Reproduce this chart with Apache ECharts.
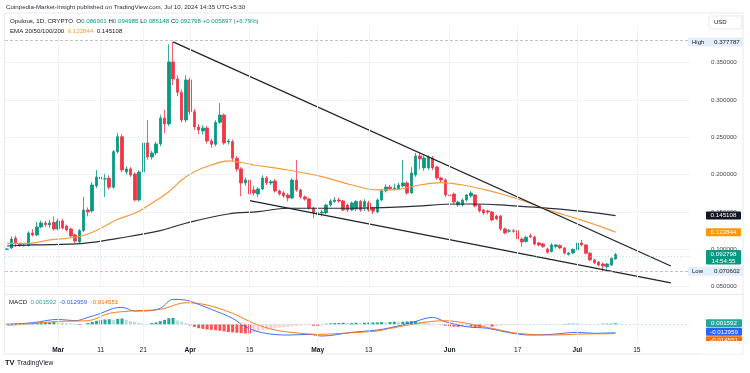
<!DOCTYPE html>
<html><head><meta charset="utf-8">
<script src="https://cdn.jsdelivr.net/npm/echarts/dist/echarts.min.js"></script>
<style>html,body{margin:0;padding:0;background:#fff}#c{width:750px;height:373px}</style>
</head><body><div id="c"></div><script>
// ---------- DATA ----------
const dates = [
'2024-02-18','2024-02-19','2024-02-20','2024-02-21','2024-02-22','2024-02-23','2024-02-24','2024-02-25','2024-02-26','2024-02-27','2024-02-28','2024-02-29',
'2024-03-01','2024-03-02','2024-03-03','2024-03-04','2024-03-05','2024-03-06','2024-03-07','2024-03-08','2024-03-09','2024-03-10','2024-03-11','2024-03-12','2024-03-13','2024-03-14','2024-03-15','2024-03-16','2024-03-17','2024-03-18','2024-03-19','2024-03-20','2024-03-21','2024-03-22','2024-03-23','2024-03-24','2024-03-25','2024-03-26','2024-03-27','2024-03-28','2024-03-29','2024-03-30','2024-03-31',
'2024-04-01','2024-04-02','2024-04-03','2024-04-04','2024-04-05','2024-04-06','2024-04-07','2024-04-08','2024-04-09','2024-04-10','2024-04-11','2024-04-12','2024-04-13','2024-04-14','2024-04-15','2024-04-16','2024-04-17','2024-04-18','2024-04-19','2024-04-20','2024-04-21','2024-04-22','2024-04-23','2024-04-24','2024-04-25','2024-04-26','2024-04-27','2024-04-28','2024-04-29','2024-04-30',
'2024-05-01','2024-05-02','2024-05-03','2024-05-04','2024-05-05','2024-05-06','2024-05-07','2024-05-08','2024-05-09','2024-05-10','2024-05-11','2024-05-12','2024-05-13','2024-05-14','2024-05-15','2024-05-16','2024-05-17','2024-05-18','2024-05-19','2024-05-20','2024-05-21','2024-05-22','2024-05-23','2024-05-24','2024-05-25','2024-05-26','2024-05-27','2024-05-28','2024-05-29','2024-05-30','2024-05-31',
'2024-06-01','2024-06-02','2024-06-03','2024-06-04','2024-06-05','2024-06-06','2024-06-07','2024-06-08','2024-06-09','2024-06-10','2024-06-11','2024-06-12','2024-06-13','2024-06-14','2024-06-15','2024-06-16','2024-06-17','2024-06-18','2024-06-19','2024-06-20','2024-06-21','2024-06-22','2024-06-23','2024-06-24','2024-06-25','2024-06-26','2024-06-27','2024-06-28','2024-06-29','2024-06-30',
'2024-07-01','2024-07-02','2024-07-03','2024-07-04','2024-07-05','2024-07-06','2024-07-07','2024-07-08','2024-07-09','2024-07-10'];
const futureDates = ['2024-07-11','2024-07-12','2024-07-13','2024-07-14','2024-07-15','2024-07-16','2024-07-17','2024-07-18','2024-07-19','2024-07-20','2024-07-21','2024-07-22','2024-07-23','2024-07-24','2024-07-25','2024-07-26','2024-07-27'];

const opens = [0.0999,0.1017,0.1151,0.1070,0.1050,0.1050,0.1218,0.1191,0.1298,0.1352,0.1325,0.1360,0.1271,0.1379,0.1311,0.1271,0.1191,0.1097,0.1250,0.1526,
0.1513,0.1848,0.1968,0.1940,0.1950,0.1830,0.2307,0.2508,0.2035,0.2076,0.2008,0.1660,0.2035,0.2424,0.2236,0.2290,0.2411,0.2759,0.2679,0.3510,
0.3282,0.3104,0.2732,0.3269,0.2844,0.2639,0.2585,0.2625,0.2451,0.2406,0.2701,0.2799,0.2437,0.2442,0.2219,0.2076,0.1888,0.1928,0.1794,0.1740,
0.1808,0.1955,0.1888,0.1915,0.1781,0.1754,0.1727,0.1687,0.1928,0.1794,0.1700,0.1673,0.1553,0.1460,0.1486,0.1486,0.1593,0.1640,0.1660,0.1647,
0.1593,0.1526,0.1540,0.1640,0.1570,0.1620,0.1553,0.1499,0.1660,0.1781,0.1834,0.1810,0.1808,0.1848,0.1888,0.1754,0.1995,0.2250,0.2090,0.2090,
0.2223,0.2102,0.1955,0.1928,0.1727,0.1740,0.1593,0.1593,0.1660,0.1714,0.1727,0.1593,0.1526,0.1513,0.1499,0.1445,0.1445,0.1271,0.1240,0.1248,
0.1248,0.1137,0.1103,0.1180,0.1164,0.1084,0.1070,0.1003,0.0970,0.1035,0.1050,0.1017,0.0930,0.0950,0.0990,0.1084,0.1057,0.0946,0.0856,0.0829,
0.0802,0.0765,0.0789,0.086901];
const closes = [0.1003,0.1137,0.1070,0.1050,0.1057,0.1218,0.1191,0.1298,0.1352,0.1330,0.1352,0.1271,0.1379,0.1285,0.1258,0.1177,0.1110,0.1250,0.1526,0.1500,
0.1861,0.1968,0.1940,0.1945,0.1830,0.2307,0.2508,0.2062,0.2076,0.1995,0.1660,0.2035,0.2424,0.2236,0.2290,0.2411,0.2759,0.2679,0.3510,0.3282,
0.3104,0.2732,0.3269,0.2844,0.2639,0.2598,0.2625,0.2451,0.2406,0.2701,0.2799,0.2424,0.2451,0.2219,0.2076,0.1888,0.1928,0.1740,0.1754,0.1808,
0.1955,0.1888,0.1905,0.1781,0.1740,0.1714,0.1687,0.1928,0.1794,0.1700,0.1673,0.1553,0.1486,0.1490,0.1499,0.1593,0.1647,0.1660,0.1647,0.1526,
0.1526,0.1620,0.1640,0.1526,0.1640,0.1526,0.1510,0.1660,0.1781,0.1834,0.1810,0.1820,0.1861,0.1888,0.1754,0.2022,0.2250,0.2210,0.2223,0.2236,
0.2090,0.1955,0.1928,0.1727,0.1714,0.1633,0.1633,0.1660,0.1727,0.1754,0.1580,0.1513,0.1486,0.1499,0.1392,0.1405,0.1271,0.1218,0.1248,0.1240,
0.1137,0.1097,0.1160,0.1164,0.1070,0.1057,0.1035,0.0959,0.1057,0.1057,0.1017,0.0950,0.0950,0.0999,0.1084,0.1057,0.0946,0.0856,0.0820,0.0789,
0.0775,0.0802,0.0877,0.092798];
const lows = [0.0985,0.1003,0.1030,0.1030,0.1035,0.1035,0.1170,0.1175,0.1280,0.1300,0.1290,0.1250,0.1250,0.1265,0.1240,0.1160,0.1080,0.1075,0.1230,0.1440,
0.1490,0.1820,0.1880,0.1700,0.1800,0.1810,0.2280,0.2030,0.2000,0.1970,0.1640,0.1640,0.2000,0.2200,0.2200,0.2260,0.2380,0.2554,0.2650,0.3200,
0.3050,0.2700,0.2700,0.2800,0.2600,0.2540,0.2540,0.2420,0.2360,0.2380,0.2680,0.2400,0.2400,0.2180,0.2040,0.1710,0.1850,0.1700,0.1720,0.1700,
0.1790,0.1860,0.1860,0.1760,0.1720,0.1690,0.1640,0.1670,0.1770,0.1680,0.1650,0.1530,0.1420,0.1420,0.1440,0.1470,0.1570,0.1620,0.1620,0.1510,
0.1500,0.1510,0.1510,0.1500,0.1510,0.1500,0.1470,0.1480,0.1640,0.1760,0.1790,0.1790,0.1790,0.1830,0.1730,0.1740,0.1970,0.2070,0.2050,0.2060,
0.2060,0.1930,0.1900,0.1700,0.1680,0.1610,0.1570,0.1570,0.1640,0.1690,0.1560,0.1490,0.1460,0.1470,0.1370,0.1390,0.1250,0.1200,0.1220,0.1220,
0.1120,0.1030,0.1090,0.1150,0.1050,0.1040,0.1020,0.0940,0.0955,0.1010,0.1000,0.0930,0.0915,0.0935,0.0975,0.1040,0.0930,0.0840,0.0800,0.0770,
0.070602,0.0740,0.0775,0.086148];
const highs = [0.1012,0.1170,0.1180,0.1085,0.1075,0.1240,0.1270,0.1365,0.1385,0.1380,0.1395,0.1440,0.1410,0.1410,0.1330,0.1290,0.1210,0.1270,0.1700,0.1560,
0.1900,0.2062,0.2050,0.2010,0.1990,0.2330,0.2560,0.2540,0.2110,0.2100,0.2030,0.2060,0.2450,0.2732,0.2320,0.2440,0.2800,0.2866,0.3747,0.377787,
0.3330,0.3140,0.3330,0.3300,0.2880,0.2680,0.2660,0.2650,0.2480,0.2730,0.2960,0.2820,0.2480,0.2470,0.2250,0.2100,0.1960,0.1960,0.1850,0.1830,
0.1990,0.1980,0.1930,0.1940,0.1800,0.1780,0.1750,0.1950,0.2196,0.1810,0.1720,0.1690,0.1570,0.1510,0.1530,0.1610,0.1670,0.1700,0.1690,0.1660,
0.1610,0.1640,0.1660,0.1660,0.1670,0.1650,0.1570,0.1680,0.1810,0.1870,0.1860,0.1880,0.1890,0.2196,0.1910,0.2100,0.2290,0.2290,0.2260,0.2260,
0.2250,0.2120,0.1970,0.1950,0.1800,0.1760,0.1650,0.1680,0.1740,0.1780,0.1740,0.1600,0.1540,0.1530,0.1510,0.1460,0.1460,0.1290,0.1270,0.1270,
0.1270,0.1160,0.1180,0.1210,0.1180,0.1100,0.1085,0.1020,0.1080,0.1070,0.1065,0.1030,0.0965,0.1010,0.1100,0.1124,0.1070,0.0960,0.0870,0.0840,
0.0820,0.0815,0.0890,0.094985];

const ema50Dates = ['2024-02-18','2024-02-23','2024-02-28','2024-03-05','2024-03-08','2024-03-11','2024-03-15','2024-03-19','2024-03-23','2024-03-27','2024-03-30','2024-04-02','2024-04-06','2024-04-10','2024-04-14','2024-04-16','2024-04-24','2024-05-02','2024-05-09','2024-05-15','2024-05-20','2024-05-25','2024-05-30','2024-06-04','2024-06-09','2024-06-14','2024-06-19','2024-06-23','2024-06-28','2024-07-04','2024-07-10'];
const ema50Values = [0.1079,0.1079,0.1124,0.1160,0.1204,0.1281,0.1401,0.1482,0.1616,0.1771,0.1928,0.2039,0.2129,0.2183,0.2152,0.2129,0.2062,0.1972,0.1861,0.1794,0.1803,0.1861,0.1892,0.1861,0.1803,0.1727,0.1637,0.1549,0.1459,0.1352,0.122844];
const ema200Dates = ['2024-02-18','2024-02-24','2024-03-07','2024-03-15','2024-03-25','2024-03-31','2024-04-10','2024-04-17','2024-04-24','2024-05-09','2024-05-22','2024-06-03','2024-06-07','2024-06-13','2024-06-27','2024-07-10'];
const ema200Values = [0.1043,0.1057,0.1079,0.1146,0.1249,0.1348,0.1472,0.1503,0.1549,0.1549,0.1570,0.1606,0.1606,0.1593,0.1536,0.145108];

const trendUpperDates = ['2024-03-28','2024-07-23'];
const trendUpperValues = [0.3778,0.0775];
const trendLowerDates = ['2024-04-15','2024-07-23'];
const trendLowerValues = [0.1650,0.0548];

const macdDates = ['2024-02-18','2024-02-24','2024-03-01','2024-03-05','2024-03-08','2024-03-11','2024-03-14','2024-03-16','2024-03-19','2024-03-22','2024-03-25','2024-03-28','2024-03-31','2024-04-02','2024-04-06','2024-04-11','2024-04-14','2024-04-18','2024-04-24','2024-04-29','2024-05-02','2024-05-09','2024-05-15','2024-05-18','2024-05-23','2024-05-28','2024-05-31','2024-06-05','2024-06-10','2024-06-15','2024-06-20','2024-06-25','2024-07-01','2024-07-05','2024-07-10'];
const macdValues = [0.0000,0.0025,0.0077,0.0056,0.0108,0.0170,0.0248,0.0263,0.0206,0.0210,0.0248,0.0387,0.0376,0.0334,0.0232,0.0093,-0.0037,-0.0130,-0.0166,-0.0155,-0.0181,-0.0124,-0.0088,-0.0053,0.0025,0.0108,0.0040,-0.0037,-0.0062,-0.0130,-0.0166,-0.0155,-0.0124,-0.0139,-0.012959];
const signalDates = ['2024-02-18','2024-02-24','2024-03-01','2024-03-08','2024-03-13','2024-03-19','2024-03-25','2024-03-31','2024-04-05','2024-04-11','2024-04-16','2024-04-21','2024-04-27','2024-05-01','2024-05-09','2024-05-15','2024-05-18','2024-05-27','2024-05-31','2024-06-05','2024-06-12','2024-06-17','2024-06-25','2024-07-02','2024-07-10'];
const signalValues = [-0.0015,0.0012,0.0046,0.0056,0.0170,0.0210,0.0232,0.0334,0.0299,0.0170,0.0015,-0.0088,-0.0139,-0.0155,-0.0130,-0.0104,-0.0062,0.0040,0.0056,0.0015,-0.0077,-0.0139,-0.0166,-0.0150,-0.014551];
const histValues = [0.0010,0.0010,0.0015,0.0010,0.0005,0.0005,
0.0015,0.0020,0.0025,0.0030,0.0030,0.0035,
0.0030,0.0025,0.0020,0.0015,
-0.0005,-0.0010,-0.0005,
0.0020,0.0040,0.0055,0.0070,0.0075,0.0080,0.0070,0.0085,0.0090,
0.0070,0.0050,0.0040,0.0025,
0.0010,0.0005,
0.0020,0.0030,0.0050,0.0070,0.0095,0.0100,
0.0060,0.0040,0.0020,
-0.0020,-0.0040,-0.0060,-0.0070,-0.0080,-0.0085,-0.0090,-0.0100,-0.0110,-0.0120,-0.0125,-0.0130,-0.0135,-0.0140,-0.0142,
-0.0120,-0.0110,-0.0090,-0.0080,-0.0070,-0.0060,-0.0050,-0.0045,-0.0040,-0.0030,-0.0025,-0.0020,-0.0015,-0.0010,
-0.0020,-0.0025,-0.0020,
0.0010,0.0015,0.0020,0.0020,0.0025,0.0020,0.0020,0.0025,0.0020,0.0025,0.0030,
0.0030,0.0030,0.0035,0.0030,0.0035,0.0040,0.0035,0.0040,0.0045,0.0050,0.0050,
0.0040,0.0030,0.0020,0.0010,0.0005,-0.0005,
-0.0020,-0.0030,-0.0035,-0.0040,-0.0040,-0.0030,-0.0035,-0.0040,-0.0045,-0.0030,-0.0025,-0.0035,-0.0030,-0.0020,-0.0015,
-0.0010,-0.0010,-0.0010,-0.0005,-0.0005,-0.0005,-0.0005,-0.0005,-0.0005,-0.0005,-0.0005,-0.0003,0.0000,
0.0005,0.0010,0.0010,0.0010,0.0005,
0.0003,0.0003,0.0002,0.0002,
0.0010,0.0010,0.0010,0.001592];

const tickDates = ['2024-03-01','2024-03-11','2024-03-21','2024-04-01','2024-04-15','2024-05-01','2024-05-13','2024-06-01','2024-06-17','2024-07-01','2024-07-15'];
const tickLabels = ['Mar','11','21','Apr','15','May','13','Jun','17','Jul','15'];

const highValue = 0.377787, lowValue = 0.070602, lastClose = 0.092798;
const ema50Last = 0.122844, ema200Last = 0.145108;
const macdLast = -0.012959, signalLast = -0.014551, histLast = 0.001592;

// ---------- CHART ----------
const FONT = '"Liberation Sans", Arial, sans-serif';
const TXT = '#131722', GRIDC = '#f0f3fa', UP = '#089981', DOWN = '#f23645';
const allDates = dates.concat(futureDates);
const idx = {}; allDates.forEach((d, i) => idx[d] = i);
const pairs = (ds, vs) => ds.map((d, k) => [idx[d], vs[k]]);
const tickSet = new Set(tickDates);
const tickMap = {}; tickDates.forEach((d, k) => tickMap[d] = tickLabels[k]);
const monthNames = new Set(['Mar','Apr','May','Jun','Jul']);
const vLines = tickDates.map(d => ({xAxis: d}));
const noSym = ['none','none'];

const histData = histValues.map((v, i) => {
  const p = i > 0 ? histValues[i-1] : v;
  let c;
  if (v >= 0) c = v >= p ? '#26a69a' : '#b2dfdb';
  else c = v < p ? '#ff5252' : '#ffcdd2';
  return {value: v, itemStyle: {color: c}};
});

const chart = echarts.init(document.getElementById('c'), null, {renderer: 'canvas', width: 750, height: 373});
const option = {
  animation: false,
  backgroundColor: '#ffffff',
  textStyle: {fontFamily: FONT},
  grid: [
    {left: 5, right: 60, top: 25.4, bottom: 86.5, containLabel: false, outerBoundsMode: 'none'},
    {left: 5, right: 60, top: 295.3, bottom: 29.3, containLabel: false, outerBoundsMode: 'none'}
  ],
  xAxis: [
    {type: 'category', gridIndex: 0, data: allDates, boundaryGap: true,
     axisLine: {show: false}, axisTick: {show: false}, axisLabel: {show: false}, splitLine: {show: false}},
    {type: 'category', gridIndex: 1, data: allDates, boundaryGap: true,
     axisLine: {show: false}, axisTick: {show: false}, splitLine: {show: false},
     axisLabel: {show: true, interval: (i, v) => tickSet.has(v), margin: 2.5, fontSize: 6.6, color: TXT, fontFamily: FONT,
       formatter: v => { const t = tickMap[v] || ''; return monthNames.has(t) ? '{b|' + t + '}' : t; },
       rich: {b: {fontWeight: 'bold', fontSize: 6.6, color: TXT, fontFamily: FONT}}}}
  ],
  yAxis: [
    {type: 'value', gridIndex: 0, position: 'right', min: 0.05, max: 0.40, interval: 0.05,
     axisLine: {show: false}, axisTick: {show: false},
     axisLabel: {margin: 21, fontSize: 6.2, color: '#434651', fontFamily: FONT, formatter: v => v > 0.39 ? '' : v.toFixed(6)},
     splitLine: {show: true, lineStyle: {color: [GRIDC,GRIDC,GRIDC,GRIDC,GRIDC,GRIDC,GRIDC,'rgba(0,0,0,0)'], width: 1}}},
    {type: 'value', gridIndex: 1, position: 'right', min: -0.03, max: 0.045,
     axisLine: {show: false}, axisTick: {show: false}, axisLabel: {show: false}, splitLine: {show: false}}
  ],
  series: [
    {type: 'line', xAxisIndex: 0, yAxisIndex: 0, data: [], silent: true,
     markLine: {silent: true, symbol: noSym, label: {show: false}, animation: false,
       lineStyle: {color: GRIDC, width: 1, type: 'solid'},
       data: vLines.concat([
         {yAxis: highValue, lineStyle: {color: '#a3a6af', width: 0.7, type: [3, 2]}},
         {yAxis: lowValue, lineStyle: {color: '#a3a6af', width: 0.7, type: [3, 2]}},
         {yAxis: lastClose, lineStyle: {color: '#9fd8cd', width: 0.7, type: [1, 2]}}
       ])}},
    {type: 'line', name: 'EMA200', xAxisIndex: 0, yAxisIndex: 0, data: pairs(ema200Dates, ema200Values),
     smooth: 0.4, showSymbol: false, symbol: 'none', lineStyle: {color: '#2a2e39', width: 1.2}},
    {type: 'line', name: 'EMA50', xAxisIndex: 0, yAxisIndex: 0, data: pairs(ema50Dates, ema50Values),
     smooth: 0.4, showSymbol: false, symbol: 'none', lineStyle: {color: '#f39c3d', width: 1.2}},
    {type: 'candlestick', xAxisIndex: 0, yAxisIndex: 0,
     data: dates.map((d, i) => [opens[i], closes[i], lows[i], highs[i]]),
     barWidth: 3,
     itemStyle: {color: UP, color0: DOWN, borderColor: UP, borderColor0: DOWN, borderWidth: 0.8}},
    {type: 'line', xAxisIndex: 0, yAxisIndex: 0, data: pairs(trendUpperDates, trendUpperValues),
     showSymbol: false, symbol: 'none', lineStyle: {color: '#1e222d', width: 1.3}},
    {type: 'line', xAxisIndex: 0, yAxisIndex: 0, data: pairs(trendLowerDates, trendLowerValues),
     showSymbol: false, symbol: 'none', lineStyle: {color: '#1e222d', width: 1.3}},
    {type: 'line', xAxisIndex: 1, yAxisIndex: 1, data: [], silent: true,
     markLine: {silent: true, symbol: noSym, label: {show: false}, animation: false,
       lineStyle: {color: GRIDC, width: 1, type: 'solid'},
       data: vLines.concat([{yAxis: histLast, lineStyle: {color: '#b2dfdb', width: 0.7, type: [2, 2]}}])}},
    {type: 'bar', xAxisIndex: 1, yAxisIndex: 1, data: histData, barWidth: 3},
    {type: 'line', xAxisIndex: 1, yAxisIndex: 1, data: pairs(macdDates, macdValues),
     smooth: 0.35, showSymbol: false, symbol: 'none', lineStyle: {color: '#2962ff', width: 0.9}},
    {type: 'line', xAxisIndex: 1, yAxisIndex: 1, data: pairs(signalDates, signalValues),
     smooth: 0.35, showSymbol: false, symbol: 'none', lineStyle: {color: '#ff6d00', width: 0.9}}
  ]
};
chart.setOption(option);

// ---------- overlay texts & value tags ----------
const yp = v => chart.convertToPixel({yAxisIndex: 0}, v);
const yq = v => chart.convertToPixel({yAxisIndex: 1}, v);
const font = s => s + 'px ' + FONT;
const T = (x, y, text, o) => Object.assign({type: 'text', x: x, y: y, z: 100,
  style: Object.assign({text: text, fill: TXT, font: font(6), align: 'left', verticalAlign: 'middle'}, (o && o.style) || {})}, (o && o.el) || {});
const R = (x, y, w, h, fill, o) => Object.assign({type: 'rect', z: 99, shape: {x: x, y: y, width: w, height: h, r: (o && o.r) || 1},
  style: Object.assign({fill: fill}, (o && o.style) || {})}, (o && o.el) || {});

const HF = 6.15;
const g = [];
// frame
g.push({type: 'rect', z: 98, shape: {x: 4.5, y: 13, width: 738.5, height: 341}, style: {fill: 'none', stroke: '#e0e3eb', lineWidth: 0.8}});
g.push({type: 'line', z: 98, shape: {x1: 4.5, y1: 294.5, x2: 743, y2: 294.5}, style: {stroke: '#e0e3eb', lineWidth: 0.8}});
// header
g.push(T(6, 7.5, 'Coinpedia-Market-Insight published on TradingView.com, Jul 10, 2024 14:35 UTC+5:30', {style: {fill: '#2a2e39', font: font(6.2)}}));
g.push(T(10, 21.5, '{d|Opulous, 1D, CRYPTO}  {d|O}{g|0.086901} {d|H}{g|0.094985} {d|L}{g|0.086148} {d|C}{g|0.092798} {g|+0.005897 (+6.79%)}',
  {style: {font: font(HF), rich: {d: {fill: TXT, font: font(HF)}, g: {fill: UP, font: font(HF)}}}}));
g.push(T(10, 31, '{d|EMA 20/50/100/200}  {o|0.122844}  {k|0.145108}',
  {style: {font: font(HF), rich: {d: {fill: TXT, font: font(HF)}, o: {fill: '#f39c3d', font: font(HF)}, k: {fill: TXT, font: font(HF)}}}}));
// USD box
g.push(R(709, 16, 33, 13, '#ffffff', {style: {stroke: '#e0e3eb', lineWidth: 0.8}, r: 2}));
g.push(T(714, 22.5, 'USD', {style: {font: font(6)}}));
// High / Low tags
const yh = yp(highValue), yl = yp(lowValue);
g.push(R(688, yh - 4.5, 55, 9, '#e4edfa'));
g.push(T(692, yh, 'High', {style: {font: font(6)}}));
g.push(T(714, yh, highValue.toFixed(6), {style: {font: font(6.2)}}));
g.push(R(688, yl - 4.5, 55, 9, '#e4edfa'));
g.push(T(692, yl, 'Low', {style: {font: font(6)}}));
g.push(T(714, yl, lowValue.toFixed(6), {style: {font: font(6.2)}}));
// EMA tags
const y200 = yp(ema200Last), y50 = yp(ema50Last), yc = yp(lastClose);
g.push(R(706, y200 - 4, 35, 8, '#131722'));
g.push(T(723.5, y200, ema200Last.toFixed(6), {style: {fill: '#ffffff', font: font(6.2), align: 'center'}}));
g.push(R(706, y50 - 4, 35, 8, '#ff9800'));
g.push(T(723.5, y50, ema50Last.toFixed(6), {style: {fill: '#ffffff', font: font(6.2), align: 'center'}}));
// last price tag
g.push(R(706, yc - 4.5, 35, 14.5, UP));
g.push(T(723.5, yc, lastClose.toFixed(6), {style: {fill: '#ffffff', font: font(6.2), align: 'center'}}));
g.push(T(723.5, yc + 6.3, '14:54:55', {style: {fill: '#ffffff', font: font(6.2), align: 'center'}}));
// MACD legend
g.push(T(9, 302.7, '{d|MACD}  {g|' + histLast.toFixed(6) + '}  {b|' + macdLast.toFixed(6) + '}  {o|' + signalLast.toFixed(6) + '}',
  {style: {font: font(HF), rich: {d: {fill: TXT, font: font(HF)}, g: {fill: '#26a69a', font: font(HF)}, b: {fill: '#2962ff', font: font(HF)}, o: {fill: '#ff6d00', font: font(HF)}}}}));
// MACD tags
const yh1 = yq(histLast);
g.push(R(706, yh1 - 4, 36, 8, '#26a69a'));
g.push(T(724, yh1, histLast.toFixed(6), {style: {fill: '#ffffff', font: font(6.2), align: 'center'}}));
g.push(R(706, yh1 + 4.5, 36, 8, '#2962ff'));
g.push(T(724, yh1 + 8.5, macdLast.toFixed(6), {style: {fill: '#ffffff', font: font(6.2), align: 'center'}}));
g.push(R(706, yh1 + 13, 36, 8, '#ff6d00'));
g.push(T(724, yh1 + 17, signalLast.toFixed(6), {style: {fill: '#ffffff', font: font(6.2), align: 'center'}}));
g.push({type: 'rect', z: 102, shape: {x: 700, y: 341, width: 42.5, height: 12.6}, style: {fill: '#ffffff'}});
// TradingView logo
g.push(T(5, 363, 'TV', {style: {font: 'bold 7.5px ' + FONT, fill: TXT}}));
g.push(T(17, 363, 'TradingView', {style: {font: font(6.6), fill: TXT}}));

chart.setOption({graphic: {elements: g}});
</script></body></html>
